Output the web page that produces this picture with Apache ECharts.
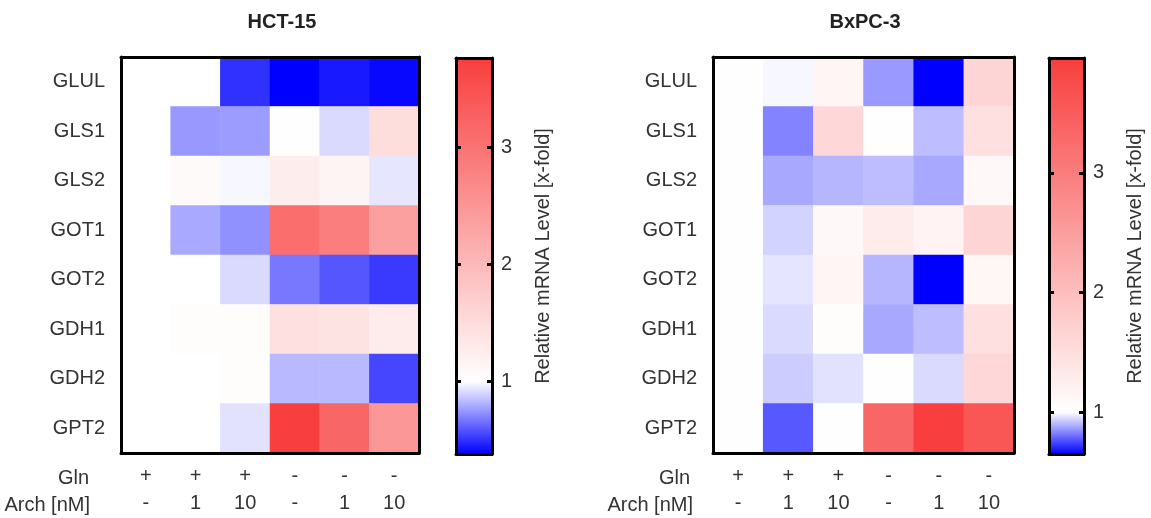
<!DOCTYPE html>
<html>
<head>
<meta charset="utf-8">
<script src="https://cdn.jsdelivr.net/npm/echarts@6/dist/echarts.min.js"></script>
<style>
  html, body { margin: 0; padding: 0; background: #fff; }
  #chart { width: 1151px; height: 518px; }
</style>
</head>
<body>
<div id="chart"></div>
<script>
// categories
const genes = ["GLUL", "GLS1", "GLS2", "GOT1", "GOT2", "GDH1", "GDH2", "GPT2"];
const glnLabels = ["+", "+", "+", "-", "-", "-"];
const archLabels = ["-", "1", "10", "-", "1", "10"];
const barTicks = [1, 2, 3];

// relative mRNA level, one row per gene, one column per condition
const hct15 = [
  [1.0, 1.0, 0.5, 0.38, 0.44, 0.4],
  [1.0, 0.75, 0.76, 1.02, 0.91, 1.49],
  [1.0, 1.07, 0.98, 1.26, 1.15, 0.94],
  [1.0, 0.79, 0.73, 3.07, 2.84, 2.38],
  [1.0, 1.0, 0.91, 0.67, 0.59, 0.52],
  [1.0, 1.05, 1.04, 1.45, 1.4, 1.29],
  [1.0, 1.0, 1.04, 0.83, 0.83, 0.55],
  [1.0, 1.0, 0.93, 3.76, 3.19, 2.49],
];
const bxpc3 = [
  [1.0, 0.99, 1.15, 0.86, 0.65, 1.65],
  [1.0, 0.83, 1.6, 1.01, 0.91, 1.48],
  [1.0, 0.88, 0.9, 0.91, 0.88, 1.11],
  [1.0, 0.94, 1.1, 1.29, 1.19, 1.64],
  [1.0, 0.965, 1.15, 0.9, 0.65, 1.14],
  [1.0, 0.95, 1.05, 0.88, 0.91, 1.47],
  [1.0, 0.93, 0.96, 1.0, 0.95, 1.6],
  [1.0, 0.77, 1.0, 3.34, 3.96, 3.59],
];
// colour bar ranges (min / max of each data set)
const hct15Range = [0.38, 3.76];
const bxpc3Range = [0.65, 3.96];

const FONT = "Liberation Sans, Arial, sans-serif";
const TXT = "#333";
const BLUE = [0, 0, 255];
const WHITE = [255, 255, 255];
const RED = [248, 62, 62];

// blue -> white (at 1) -> red
const colorAt = (v, min, max) => {
  let b, t;
  if (v <= 1) {
    t = (1 - v) / (1 - min);
    b = BLUE;
  } else {
    t = (v - 1) / (max - 1);
    b = RED;
  }
  t = Math.max(0, Math.min(1, t));
  const c = WHITE.map((x, i) => Math.round(x + (b[i] - x) * t));
  return "rgb(" + c.join(",") + ")";
};

// many samples so that 1.0 stays pure white after interpolation
const palette = (min, max) => {
  const out = [];
  for (let i = 0; i <= 2000; i++) out.push(colorAt(min + (max - min) * i / 2000, min, max));
  return out;
};

const frameLine = { show: true, onZero: false, lineStyle: { color: "#000", width: 3 } };

const grids = [];
const xAxes = [];
const yAxes = [];
const series = [];
const visualMaps = [];

const addPanel = (rows, range, hm, cb) => {
  // heatmap grid
  const g = grids.length;
  grids.push({ left: hm.left, top: hm.top, width: hm.width, height: hm.height });
  const xi = xAxes.length;
  xAxes.push({
    gridIndex: g, type: "category", data: glnLabels.map((_, i) => i), position: "bottom", z: 10,
    axisLine: frameLine,
    axisTick: { alignWithLabel: true, length: 9, lineStyle: { color: "#000", width: 3 } },
    axisLabel: {
      margin: 10, fontSize: 20, lineHeight: 27, color: TXT, fontFamily: FONT,
      formatter: (v, i) => glnLabels[i] + "\n" + archLabels[i],
    },
    splitLine: { show: false },
  });
  xAxes.push({
    gridIndex: g, type: "category", data: glnLabels.map((_, i) => i), position: "top", z: 10,
    axisLine: frameLine, axisTick: { show: false }, axisLabel: { show: false },
  });
  const yi = yAxes.length;
  yAxes.push({
    gridIndex: g, type: "category", data: genes, inverse: true, position: "left", z: 10,
    axisLine: frameLine,
    axisTick: { alignWithLabel: true, length: 9, lineStyle: { color: "#000", width: 3 } },
    axisLabel: { margin: 16, fontSize: 20, color: TXT, fontFamily: FONT },
    splitLine: { show: false },
  });
  yAxes.push({
    gridIndex: g, type: "category", data: genes, inverse: true, position: "right", z: 10,
    axisLine: frameLine, axisTick: { show: false }, axisLabel: { show: false },
  });
  const data = [];
  rows.forEach((r, y) => r.forEach((v, x) => data.push([x, y, v])));
  const si = series.length;
  series.push({
    type: "heatmap", xAxisIndex: xi, yAxisIndex: yi, data: data,
    itemStyle: { borderWidth: 0 }, emphasis: { disabled: true },
  });
  visualMaps.push({
    type: "continuous", show: false, seriesIndex: si, dimension: 2,
    min: range[0], max: range[1], inRange: { color: palette(range[0], range[1]) },
  });

  // colour bar grid
  const c = grids.length;
  grids.push({ left: cb.left, top: cb.top, width: cb.width, height: cb.height });
  const cx = xAxes.length;
  ["bottom", "top"].forEach((p) =>
    xAxes.push({
      gridIndex: c, type: "value", min: 0, max: 1, position: p, z: 10,
      axisLine: frameLine, axisTick: { show: false }, axisLabel: { show: false }, splitLine: { show: false },
    })
  );
  const cy = yAxes.length;
  yAxes.push({
    gridIndex: c, type: "value", min: range[0], max: range[1], position: "left", z: 10,
    axisLine: frameLine,
    axisTick: { inside: true, length: 5, customValues: barTicks, lineStyle: { color: "#000", width: 3 } },
    axisLabel: { show: false }, splitLine: { show: false },
  });
  yAxes.push({
    gridIndex: c, type: "value", min: range[0], max: range[1], position: "right", z: 10,
    axisLine: frameLine,
    axisTick: { inside: true, length: 5, customValues: barTicks, lineStyle: { color: "#000", width: 3 } },
    axisLabel: { customValues: barTicks, margin: 9, fontSize: 20, color: TXT, fontFamily: FONT },
    splitLine: { show: false },
    name: "Relative mRNA Level [x-fold]", nameLocation: "middle", nameRotate: 90, nameGap: 41,
    nameTextStyle: { fontSize: 20, color: TXT, fontFamily: FONT },
  });
  // gradient stops: top = max, bottom = min
  const stops = [];
  for (let i = 0; i <= 200; i++) {
    const v = range[1] - (range[1] - range[0]) * i / 200;
    stops.push({ offset: i / 200, color: colorAt(v, range[0], range[1]) });
  }
  series.push({
    type: "custom", xAxisIndex: cx, yAxisIndex: cy, data: [[0, range[0], 1, range[1]]],
    silent: true,
    renderItem: (params, api) => {
      const p0 = api.coord([api.value(0), api.value(3)]);
      const p1 = api.coord([api.value(2), api.value(1)]);
      return {
        type: "rect",
        shape: { x: p0[0], y: p0[1], width: p1[0] - p0[0], height: p1[1] - p0[1] },
        style: { fill: new echarts.graphic.LinearGradient(0, 0, 0, 1, stops) },
      };
    },
  });
};

addPanel(hct15, hct15Range,
  { left: 121, top: 57, width: 298, height: 396 },
  { left: 456, top: 58, width: 36, height: 396 });
addPanel(bxpc3, bxpc3Range,
  { left: 713, top: 57, width: 301, height: 396 },
  { left: 1049, top: 58, width: 35, height: 396 });

const text = (x, y, s, align, bold) => ({
  type: "text", x: x, y: y, z: 20,
  style: {
    text: s, align: align, verticalAlign: "middle", fontSize: 20,
    fontWeight: bold ? "bold" : "normal", fontFamily: FONT, fill: bold ? "#222" : TXT,
  },
});

const myChart = echarts.init(document.getElementById("chart"), null, { renderer: "canvas" });
myChart.setOption({
  animation: false,
  backgroundColor: "#fff",
  grid: grids,
  xAxis: xAxes,
  yAxis: yAxes,
  visualMap: visualMaps,
  series: series,
  graphic: [
    text(282, 22, "HCT-15", "center", true),
    text(865, 22, "BxPC-3", "center", true),
    text(89, 478, "Gln", "right"),
    text(90, 505, "Arch [nM]", "right"),
    text(690, 478, "Gln", "right"),
    text(693, 505, "Arch [nM]", "right"),
  ],
});
</script>
</body>
</html>
